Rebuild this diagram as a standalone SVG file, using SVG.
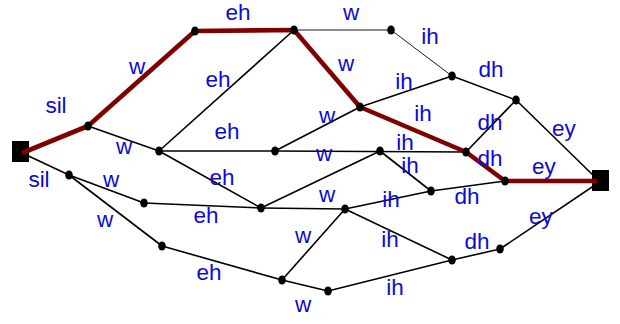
<svg xmlns="http://www.w3.org/2000/svg" width="620" height="324" viewBox="0 0 620 324">
<style>
.e{stroke:#000;stroke-width:1.6;fill:none}
.t{stroke:#000;stroke-width:0.9;fill:none}
.p{stroke:#800000;stroke-width:4.6;fill:none;stroke-linejoin:round}
.d{fill:#000}
.l{font-family:"Liberation Sans",Arial,sans-serif;font-size:22.5px;fill:#0a0ad8;text-anchor:middle}
</style>
<rect width="620" height="324" fill="#fff"/>
<g id="start"><rect x="12" y="141" width="17" height="21" class="d"/></g>
<g id="end"><rect x="592" y="170" width="17" height="21" class="d"/></g>
<g id="connectors">
<path class="e" d="M20 152L69 175"/>
<path class="e" d="M88 126L159 151"/>
<path class="e" d="M159 151L294 30"/>
<path class="e" d="M159 151L275 151"/>
<path class="e" d="M159 151L261 208"/>
<path class="t" d="M294 30L391 30"/>
<path class="t" d="M391 30L452 76"/>
<path class="e" d="M275 151L360 107"/>
<path class="e" d="M360 107L452 76"/>
<path class="e" d="M275 151L466 152"/>
<path class="e" d="M380 151L431 191"/>
<path class="e" d="M452 76L516 100"/>
<path class="e" d="M516 100L466 152"/>
<path class="e" d="M516 100L598 180"/>
<path class="e" d="M431 191L505 181"/>
<path class="e" d="M69 175L144 203"/>
<path class="e" d="M69 175L162 246"/>
<path class="e" d="M144 203L261 208"/>
<path class="e" d="M162 246L282 280"/>
<path class="e" d="M261 208L380 151"/>
<path class="e" d="M261 208L345 209"/>
<path class="e" d="M345 209L431 191"/>
<path class="e" d="M345 209L452 260"/>
<path class="e" d="M345 209L282 280"/>
<path class="e" d="M282 280L328 291"/>
<path class="e" d="M328 291L452 260"/>
<path class="e" d="M452 260L500 249"/>
<path class="e" d="M500 249L598 183"/>
<path class="p" d="M22 153L88 126L195 31L294 30L360 107L466 152L505 181L597 181"/>
</g>
<g id="nA"><ellipse cx="88" cy="126" rx="3.8" ry="4.5" class="d"/></g>
<g id="nB"><ellipse cx="159" cy="151" rx="3.8" ry="4.5" class="d"/></g>
<g id="nC"><ellipse cx="195" cy="31" rx="3.8" ry="4.5" class="d"/></g>
<g id="nD"><ellipse cx="294" cy="30" rx="3.8" ry="4.5" class="d"/></g>
<g id="nE"><ellipse cx="391" cy="30" rx="3.8" ry="4.5" class="d"/></g>
<g id="nF"><ellipse cx="360" cy="107" rx="3.8" ry="4.5" class="d"/></g>
<g id="nG"><ellipse cx="275" cy="151" rx="3.8" ry="4.5" class="d"/></g>
<g id="nH"><ellipse cx="380" cy="151" rx="3.8" ry="4.5" class="d"/></g>
<g id="nI"><ellipse cx="452" cy="76" rx="3.8" ry="4.5" class="d"/></g>
<g id="nJ"><ellipse cx="516" cy="100" rx="3.8" ry="4.5" class="d"/></g>
<g id="nK"><ellipse cx="466" cy="152" rx="3.8" ry="4.5" class="d"/></g>
<g id="nL"><ellipse cx="505" cy="181" rx="3.8" ry="4.5" class="d"/></g>
<g id="nM"><ellipse cx="431" cy="191" rx="3.8" ry="4.5" class="d"/></g>
<g id="nN"><ellipse cx="69" cy="175" rx="3.8" ry="4.5" class="d"/></g>
<g id="nO"><ellipse cx="144" cy="203" rx="3.8" ry="4.5" class="d"/></g>
<g id="nP"><ellipse cx="162" cy="246" rx="3.8" ry="4.5" class="d"/></g>
<g id="nQ"><ellipse cx="261" cy="208" rx="3.8" ry="4.5" class="d"/></g>
<g id="nR"><ellipse cx="345" cy="209" rx="3.8" ry="4.5" class="d"/></g>
<g id="nT"><ellipse cx="282" cy="280" rx="3.8" ry="4.5" class="d"/></g>
<g id="nU"><ellipse cx="328" cy="291" rx="3.8" ry="4.5" class="d"/></g>
<g id="nV"><ellipse cx="452" cy="260" rx="3.8" ry="4.5" class="d"/></g>
<g id="nW"><ellipse cx="500" cy="249" rx="3.8" ry="4.5" class="d"/></g>
<g id="labels">
<text class="l" x="56" y="113">sil</text>
<text class="l" x="137" y="74">w</text>
<text class="l" x="124" y="154">w</text>
<text class="l" x="238" y="20">eh</text>
<text class="l" x="218" y="87">eh</text>
<text class="l" x="351" y="20">w</text>
<text class="l" x="346" y="71">w</text>
<text class="l" x="430" y="44">ih</text>
<text class="l" x="404" y="89">ih</text>
<text class="l" x="327" y="123">w</text>
<text class="l" x="227" y="139">eh</text>
<text class="l" x="324" y="161">w</text>
<text class="l" x="423" y="121">ih</text>
<text class="l" x="405" y="150">ih</text>
<text class="l" x="410" y="173">ih</text>
<text class="l" x="391" y="207">ih</text>
<text class="l" x="491" y="77">dh</text>
<text class="l" x="490" y="130">dh</text>
<text class="l" x="490" y="166">dh</text>
<text class="l" x="564" y="136">ey</text>
<text class="l" x="544" y="174">ey</text>
<text class="l" x="467" y="204">dh</text>
<text class="l" x="541" y="224">ey</text>
<text class="l" x="477" y="249">dh</text>
<text class="l" x="39" y="187">sil</text>
<text class="l" x="111" y="187">w</text>
<text class="l" x="105" y="227">w</text>
<text class="l" x="206" y="223">eh</text>
<text class="l" x="222" y="185">eh</text>
<text class="l" x="209" y="280">eh</text>
<text class="l" x="327" y="202">w</text>
<text class="l" x="303" y="243">w</text>
<text class="l" x="390" y="247">ih</text>
<text class="l" x="303" y="312">w</text>
<text class="l" x="395" y="295">ih</text>
</g>
</svg>
